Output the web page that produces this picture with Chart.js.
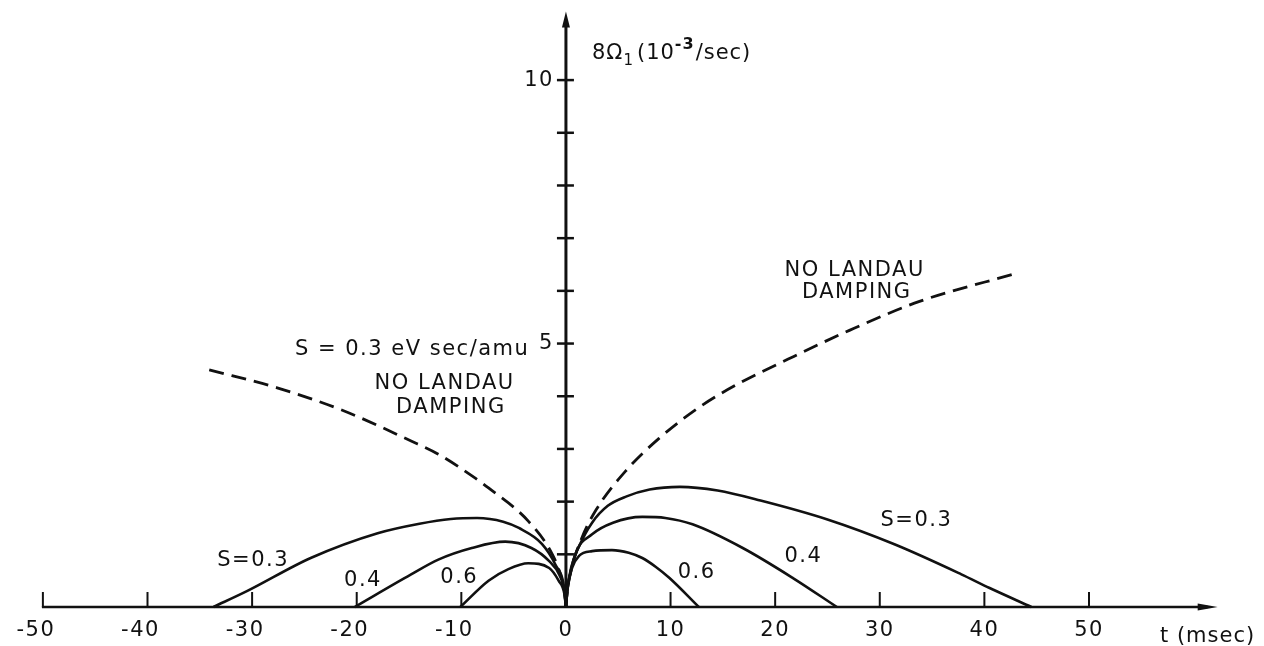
<!DOCTYPE html>
<html>
<head>
<meta charset="utf-8">
<script src="https://cdn.jsdelivr.net/npm/chart.js@4.4.1/dist/chart.umd.min.js"></script>
<style>
  html, body { margin: 0; padding: 0; background: #fff; overflow: hidden; }
  canvas { display: block; }
</style>
</head>
<body>
<canvas id="growth" width="1264" height="646"></canvas>
<script>
// t (msec) and growth rate 8Ω1 (10^-3/sec), one pair of arrays per branch

// no Landau damping (dashed)
const tNoDampL = [-34.1, -27.6, -21.2, -14.8, -12.2, -8.7, -7.4, -3.6, -1.3, -0.5, -0.1, 0];
const rNoDampL = [4.5, 4.16, 3.72, 3.15, 2.9, 2.45, 2.26, 1.63, 1.0, 0.6, 0.25, 0];
const tNoDampR = [0, 0.1, 0.5, 1.5, 2.9, 5.8, 8.9, 12.8, 16.6, 21.2, 27.1, 33.8, 43.2];
const rNoDampR = [0, 0.25, 0.7, 1.3, 1.85, 2.6, 3.2, 3.8, 4.25, 4.7, 5.25, 5.8, 6.34];

// S = 0.3
const tS03L = [-33.7, -30.5, -24.4, -18, -14, -11, -8.5, -6, -4.5, -2.3, -1, -0.15, 0];
const rS03L = [0, 0.3, 0.93, 1.4, 1.58, 1.67, 1.69, 1.62, 1.5, 1.2, 0.8, 0.33, 0];
const tS03R = [0, 0.15, 0.5, 1.25, 2.5, 4, 5.8, 8, 10.9, 14.5, 18.6, 25, 31.4, 37.8, 40.5, 44.5];
const rS03R = [0, 0.35, 0.75, 1.15, 1.6, 1.92, 2.1, 2.23, 2.28, 2.21, 2.02, 1.66, 1.19, 0.62, 0.36, 0];

// S = 0.4
const tS04L = [-20.2, -14.8, -12.2, -9, -5.8, -3.3, -1.6, -0.6, -0.15, 0];
const rS04L = [0, 0.62, 0.9, 1.12, 1.24, 1.12, 0.87, 0.6, 0.3, 0];
const tS04R = [0, 0.15, 0.9, 2.5, 4.5, 7.3, 9.5, 12.1, 16.9, 21.7, 25.9];
const rS04R = [0, 0.33, 1.0, 1.38, 1.6, 1.71, 1.69, 1.57, 1.12, 0.55, 0];

// S = 0.6
const tS06L = [-10.1, -7.4, -5.5, -3.6, -1.6, -0.7, -0.15, 0];
const rS06L = [0, 0.5, 0.72, 0.83, 0.74, 0.5, 0.25, 0];
const tS06R = [0, 0.15, 0.6, 1.25, 2.5, 4.4, 6, 7.3, 8.6, 9.9, 12.7];
const rS06R = [0, 0.35, 0.75, 0.97, 1.06, 1.08, 1.03, 0.93, 0.76, 0.55, 0];

const xTicks = [-50, -40, -30, -20, -10, 0, 10, 20, 30, 40, 50];
const yTicks = [1, 2, 3, 4, 5, 6, 7, 8, 9, 10];
const yTickLabels = ['', '', '', '', '5', '', '', '', '', '10'];

const INK = '#111';
const FONT = '21px "DejaVu Sans"';

const pts = (ts, rs) => ts.map((t, i) => ({ x: t, y: rs[i] }));

function curve(ts, rs, dashed) {
  return {
    data: pts(ts, rs),
    showLine: true,
    borderColor: INK,
    borderWidth: dashed ? 2.8 : 2.6,
    borderDash: dashed ? [15, 8] : [],
    pointRadius: 0,
    cubicInterpolationMode: 'monotone',
    clip: false,
  };
}

// curve labels, in data units
const notes = [
  { text: 'S=0.3', x: -29.9, y: 0.89 },
  { text: '0.4', x: -19.4, y: 0.51 },
  { text: '0.6', x: -10.2, y: 0.55 },
  { text: '0.6', x: 12.5, y: 0.65 },
  { text: '0.4', x: 22.7, y: 0.95 },
  { text: 'S=0.3', x: 33.5, y: 1.65 },
  { text: 'S = 0.3 eV sec/amu', x: -14.7, y: 4.88 },
  { text: 'NO LANDAU', x: -11.6, y: 4.25 },
  { text: 'DAMPING', x: -11.0, y: 3.78 },
  { text: 'NO LANDAU', x: 27.6, y: 6.39 },
  { text: 'DAMPING', x: 27.8, y: 5.96 },
];

const axesPlugin = {
  id: 'handAxes',
  beforeDatasetsDraw(chart) {
    const { ctx, scales: { x, y } } = chart;
    const x0 = x.getPixelForValue(0);
    const y0 = y.getPixelForValue(0);
    ctx.save();
    ctx.strokeStyle = INK;
    ctx.fillStyle = INK;

    // t axis with arrow
    const xs = x.getPixelForValue(-50);
    const xe = x.getPixelForValue(62.3);
    ctx.lineWidth = 2.5;
    ctx.beginPath();
    ctx.moveTo(xs - 1, y0);
    ctx.lineTo(xe - 10, y0);
    ctx.stroke();
    ctx.beginPath();
    ctx.moveTo(xe, y0);
    ctx.lineTo(xe - 20, y0 - 3.5);
    ctx.lineTo(xe - 20, y0 + 3.5);
    ctx.closePath();
    ctx.fill();

    ctx.lineWidth = 2;
    xTicks.forEach(v => {
      if (v === 0) return;
      const px = x.getPixelForValue(v);
      ctx.beginPath();
      ctx.moveTo(px, y0);
      ctx.lineTo(px, y0 - 15);
      ctx.stroke();
    });

    // rate axis with arrow
    const yt = y.getPixelForValue(11.3);
    ctx.lineWidth = 3;
    ctx.beginPath();
    ctx.moveTo(x0, y0);
    ctx.lineTo(x0, yt + 10);
    ctx.stroke();
    ctx.beginPath();
    ctx.moveTo(x0, yt);
    ctx.lineTo(x0 - 4, yt + 16);
    ctx.lineTo(x0 + 4, yt + 16);
    ctx.closePath();
    ctx.fill();

    ctx.lineWidth = 2.5;
    yTicks.forEach(v => {
      const py = y.getPixelForValue(v);
      ctx.beginPath();
      ctx.moveTo(x0 - 9, py);
      ctx.lineTo(x0 + 8, py);
      ctx.stroke();
    });
    ctx.restore();
  },
  afterDatasetsDraw(chart) {
    const { ctx, scales: { x, y } } = chart;
    const x0 = x.getPixelForValue(0);
    const y0 = y.getPixelForValue(0);
    ctx.save();
    ctx.fillStyle = INK;
    ctx.font = FONT;
    ctx.letterSpacing = '1.5px';
    ctx.textBaseline = 'middle';

    // tick labels
    ctx.textAlign = 'center';
    xTicks.forEach(v => {
      const px = x.getPixelForValue(v) - (v < 0 ? 7 : 0);
      ctx.fillText(String(v), px, y0 + 24);
    });
    ctx.textAlign = 'right';
    yTicks.forEach((v, i) => {
      if (!yTickLabels[i]) return;
      ctx.fillText(yTickLabels[i], x0 - 12, y.getPixelForValue(v));
    });

    // axis titles
    ctx.textAlign = 'left';
    ctx.letterSpacing = '1px';
    ctx.fillText('t (msec)', 1160, y0 + 30);

    let cx = 592;
    const cy = y.getPixelForValue(10.5);
    const piece = (s, dy, font) => {
      ctx.font = font;
      ctx.fillText(s, cx, cy + dy);
      cx += ctx.measureText(s).width;
    };
    piece('8Ω', 0, FONT);
    piece('1', 7, '15px "DejaVu Sans"');
    cx += 3;
    piece('(10', 0, FONT);
    piece('-3', -9, 'bold 16px "DejaVu Sans"');
    cx += 1;
    piece('/sec)', 0, FONT);

    // curve notes
    ctx.font = FONT;
    ctx.letterSpacing = '1.5px';
    ctx.textAlign = 'center';
    notes.forEach(n => ctx.fillText(n.text, x.getPixelForValue(n.x), y.getPixelForValue(n.y)));
    ctx.restore();
  },
};

new Chart(document.getElementById('growth'), {
  type: 'scatter',
  data: {
    datasets: [
      curve(tNoDampL, rNoDampL, true),
      curve(tNoDampR, rNoDampR, true),
      curve(tS03L, rS03L, false),
      curve(tS03R, rS03R, false),
      curve(tS04L, rS04L, false),
      curve(tS04R, rS04R, false),
      curve(tS06L, rS06L, false),
      curve(tS06R, rS06R, false),
    ],
  },
  options: {
    responsive: false,
    animation: false,
    devicePixelRatio: 1,
    layout: { padding: 0 },
    plugins: { legend: { display: false }, tooltip: { enabled: false } },
    scales: {
      x: { type: 'linear', min: -54.1, max: 66.73, display: false },
      y: { type: 'linear', min: -0.74, max: 11.52, display: false },
    },
  },
  plugins: [axesPlugin],
});
</script>
</body>
</html>
